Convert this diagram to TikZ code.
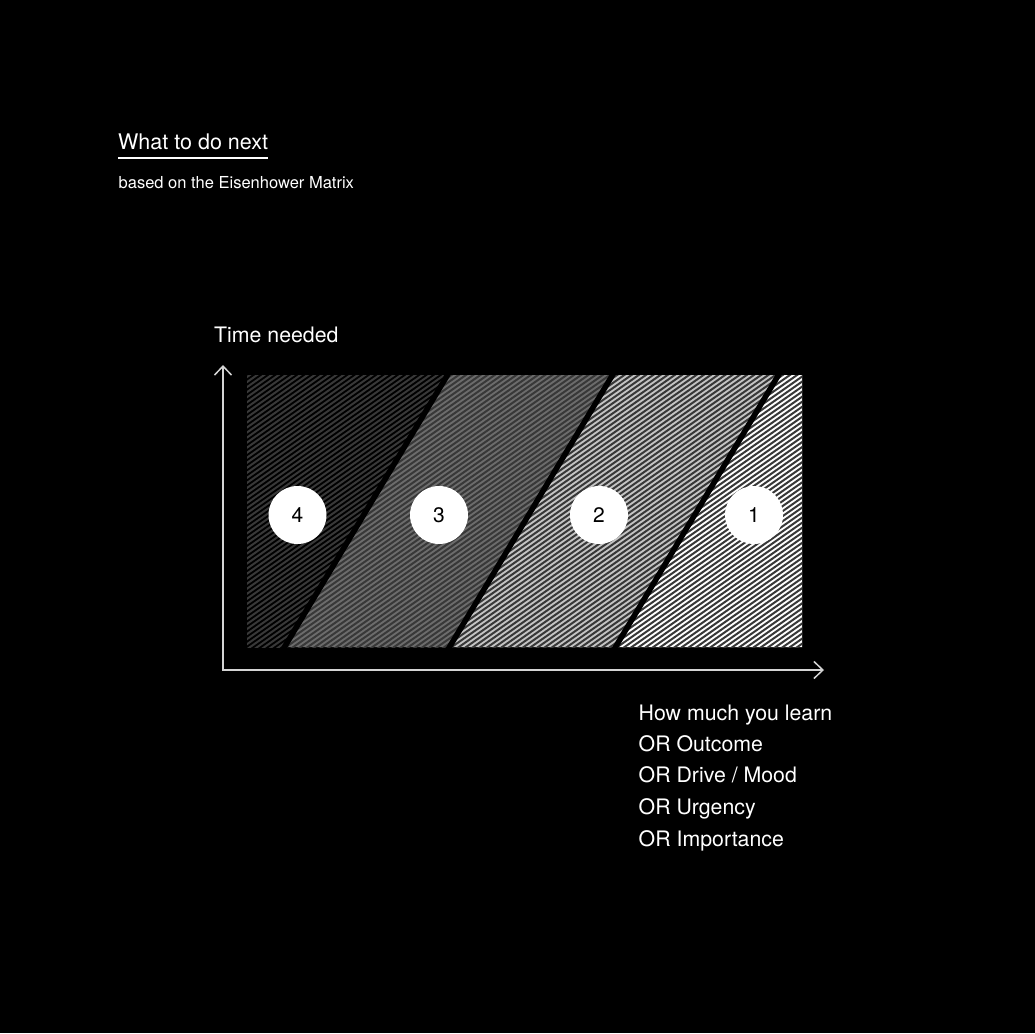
\documentclass[tikz,border=0pt]{standalone}
\usepackage{fontspec}
\setmainfont{TeX Gyre Heros}
\usetikzlibrary{arrows.meta}
\definecolor{stripecol}{HTML}{383838}
\definecolor{regthree}{HTML}{6C6C6C}
\definecolor{regtwo}{HTML}{C4C4C4}
\definecolor{axiscol}{HTML}{D4D4D4}
\tikzset{
  lbl/.style={anchor=base west, inner sep=0pt, text=white, font=\fontsize{21.3}{25}\selectfont},
  titlelbl/.style={anchor=base west, inner sep=0pt, text=white, font=\fontsize{21.5}{25}\selectfont},
  sublbl/.style={anchor=base west, inner sep=0pt, text=white, font=\fontsize{16.5}{19}\selectfont},
  num/.style={circle, fill=white, minimum size=58pt, inner sep=0pt, text=black, font=\fontsize{21}{24}\selectfont},
  axis/.style={draw=axiscol, line width=1.5pt},
  gapline/.style={draw=black, line width=5.5pt},
  stripeline/.style={draw=stripecol, line width=2pt},
  barb/.tip={Straight Barb[length=9pt, width=17pt, line width=1.5pt]}
}
\begin{document}
\begin{tikzpicture}[x=1pt, y=-1pt]
\fill[black] (0,0) rectangle (1035,1033);
\useasboundingbox (0,0) rectangle (1035,1033);

% region backgrounds
\fill[regthree] (447.5,375) -- (612.5,375) -- (449.5,647) -- (284.5,647) -- cycle;
\fill[regtwo] (612.5,375) -- (778.5,375) -- (615.5,647) -- (449.5,647) -- cycle;
\fill[white] (778.5,375) -- (802,375) -- (802,647) -- (615.5,647) -- cycle;

% stripes
\begin{scope}
  \clip (247,375) rectangle (802,647);
  \foreach \i in {0,...,135} {
    \draw[stripeline] ({-153+7.2*\i},652) -- ++(400,-280);
  }
\end{scope}

% gaps between regions
\draw[gapline] (453.5,365) -- (278.5,657);
\draw[gapline] (618.5,365) -- (443.5,657);
\draw[gapline] (784.5,365) -- (609.5,657);

% axes
\coordinate (ytop) at (223,365);
\coordinate (origin) at (223,670);
\coordinate (xend) at (824,670);
\draw[axis, barb-barb] (ytop) -- (origin) -- (xend);

% numbered circles
\node[num] (n4) at (297.5,515) {4};
\node[num] (n3) at (439,515) {3};
\node[num] (n2) at (599,515) {2};
\node[num] (n1) at (754,515) {1};

% titles
\node[titlelbl] (title) at (118,149.5) {What to do next};
\draw[draw=white, line width=1.8pt] ([yshift=-8.5pt]title.base west) -- ([yshift=-8.5pt]title.base east);
\node[sublbl] (sub) at (118.5,188.5) {based on the Eisenhower Matrix};

% axis labels
\node[lbl] (ylab) at (214,342) {Time needed};
\node[lbl] (x1) at (638.5,720) {How much you learn};
\node[lbl] (x2) at (638.5,751) {OR Outcome};
\node[lbl] (x3) at (638.5,782.5) {OR Drive / Mood};
\node[lbl] (x4) at (638.5,814.5) {OR Urgency};
\node[lbl] (x5) at (638.5,846) {OR Importance};
\end{tikzpicture}
\end{document}
